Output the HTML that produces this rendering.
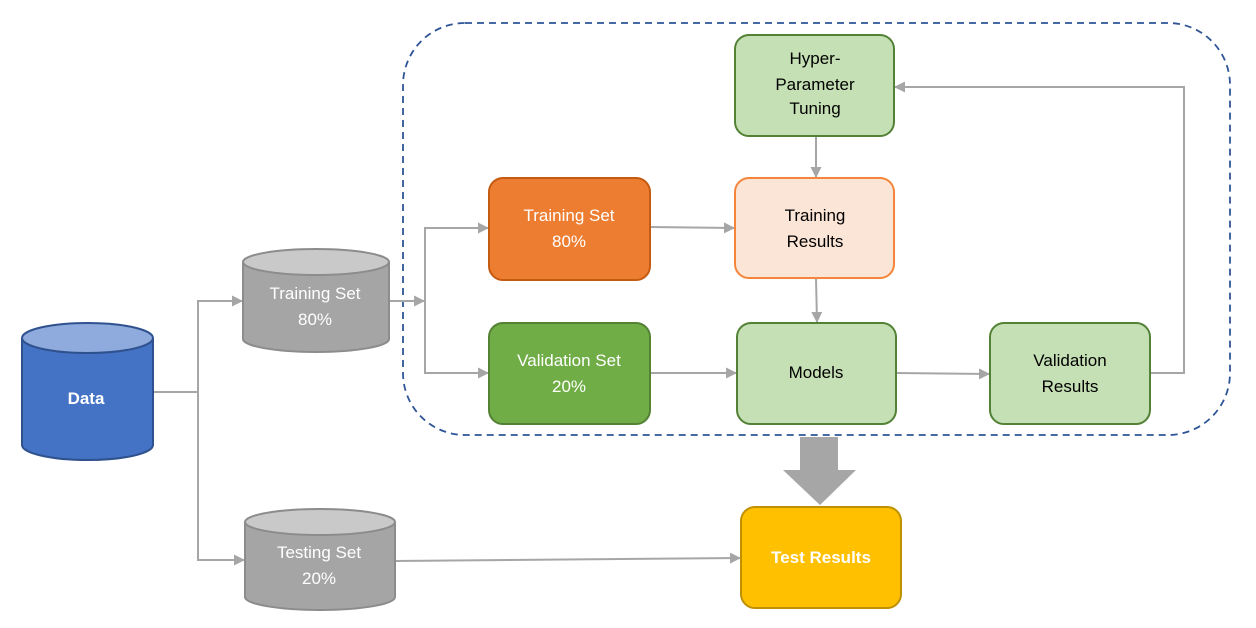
<!DOCTYPE html>
<html><head><meta charset="utf-8"><style>body{margin:0;background:#fff}svg{display:block}text{font-family:"Liberation Sans",sans-serif;font-size:17px;text-anchor:middle}</style></head><body>
<svg width="1256" height="628" viewBox="0 0 1256 628" xmlns="http://www.w3.org/2000/svg">
<defs><marker id="a" markerWidth="11" markerHeight="11" refX="10" refY="5.5" orient="auto" markerUnits="userSpaceOnUse"><path d="M0,0 L11,5.5 L0,11 z" fill="#A6A6A6"/></marker></defs>
<rect x="403" y="23" width="827" height="412" rx="62" fill="none" stroke="#2F5597" stroke-width="1.8" stroke-dasharray="7,5"/>
<g stroke="#A6A6A6" stroke-width="2" fill="none">
<path d="M153,392 H198"/>
<path d="M198,560 V301 H242" marker-end="url(#a)"/>
<path d="M198,392 V560 H244" marker-end="url(#a)"/>
<path d="M389,301 H424" marker-end="url(#a)"/>
<path d="M425,301 V228 H488" marker-end="url(#a)"/>
<path d="M425,301 V373 H488" marker-end="url(#a)"/>
<path d="M650,227 L734,228" marker-end="url(#a)"/>
<path d="M816,136 V177" marker-end="url(#a)"/>
<path d="M816,278 L817,322" marker-end="url(#a)"/>
<path d="M650,373 H736" marker-end="url(#a)"/>
<path d="M896,373 L989,374" marker-end="url(#a)"/>
<path d="M1150,373 H1184 V87 H895" marker-end="url(#a)"/>
<path d="M395,561 L740,558" marker-end="url(#a)"/>
</g>
<path d="M22,338 V445 A65.5,15 0 0 0 153,445 V338" fill="#4472C4" stroke="#2F528F" stroke-width="2"/>
<ellipse cx="87.5" cy="338" rx="65.5" ry="15" fill="#8FAADC" stroke="#2F528F" stroke-width="2"/>
<text x="86" y="404" fill="#fff" font-weight="bold">Data</text>
<path d="M243,262 V339 A73,13 0 0 0 389,339 V262" fill="#A5A5A5" stroke="#8C8C8C" stroke-width="2"/>
<ellipse cx="316" cy="262" rx="73" ry="13" fill="#C9C9C9" stroke="#8C8C8C" stroke-width="2"/>
<text x="315" y="299" fill="#fff">Training Set</text><text x="315" y="325" fill="#fff">80%</text>
<path d="M245,522 V597 A75,13 0 0 0 395,597 V522" fill="#A5A5A5" stroke="#8C8C8C" stroke-width="2"/>
<ellipse cx="320" cy="522" rx="75" ry="13" fill="#C9C9C9" stroke="#8C8C8C" stroke-width="2"/>
<text x="319" y="558" fill="#fff">Testing Set</text><text x="319" y="584" fill="#fff">20%</text>
<rect x="489" y="178" width="161" height="102" rx="14" fill="#ED7D31" stroke="#C55A11" stroke-width="2"/>
<text x="569" y="221" fill="#fff">Training Set</text><text x="569" y="247" fill="#fff">80%</text>
<rect x="489" y="323" width="161" height="101" rx="14" fill="#70AD47" stroke="#548235" stroke-width="2"/>
<text x="569" y="366" fill="#fff">Validation Set</text><text x="569" y="392" fill="#fff">20%</text>
<rect x="735" y="35" width="159" height="101" rx="14" fill="#C5E0B4" stroke="#538135" stroke-width="2"/>
<text x="815" y="64" fill="#000">Hyper-</text><text x="815" y="90" fill="#000">Parameter</text><text x="815" y="114" fill="#000">Tuning</text>
<rect x="735" y="178" width="159" height="100" rx="14" fill="#FBE5D6" stroke="#F4853A" stroke-width="2"/>
<text x="815" y="221" fill="#000">Training</text><text x="815" y="247" fill="#000">Results</text>
<rect x="737" y="323" width="159" height="101" rx="14" fill="#C5E0B4" stroke="#538135" stroke-width="2"/>
<text x="816" y="378" fill="#000">Models</text>
<rect x="990" y="323" width="160" height="101" rx="14" fill="#C5E0B4" stroke="#538135" stroke-width="2"/>
<text x="1070" y="366" fill="#000">Validation</text><text x="1070" y="392" fill="#000">Results</text>
<path d="M800,437 H838 V470 H856 L820,505 L783,470 H800 Z" fill="#A6A6A6"/>
<rect x="741" y="507" width="160" height="101" rx="14" fill="#FFC000" stroke="#BF9000" stroke-width="2"/>
<text x="821" y="563" fill="#fff" font-weight="bold">Test Results</text>
</svg>
</body></html>
